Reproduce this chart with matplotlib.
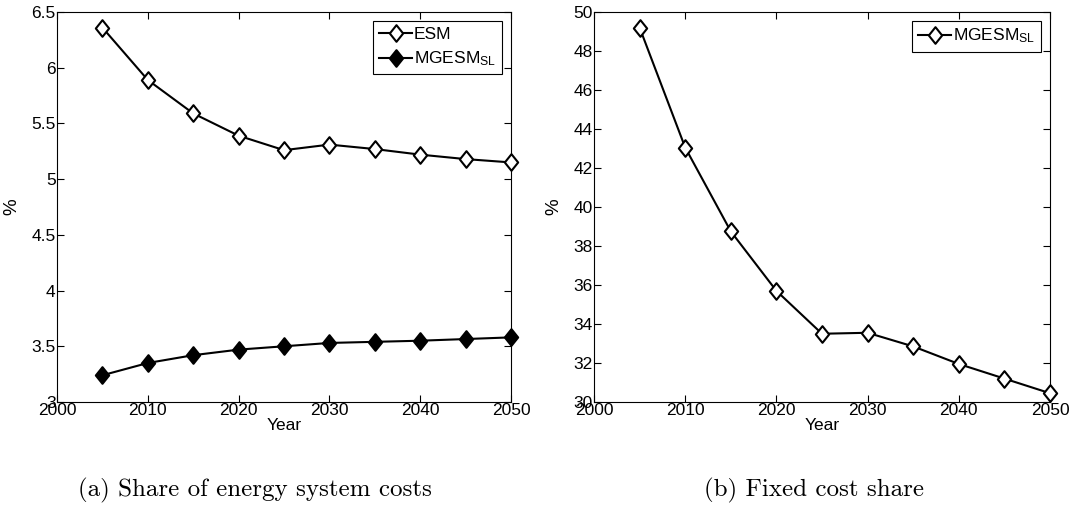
import matplotlib.pyplot as plt
from matplotlib.path import Path

years = [2005, 2010, 2015, 2020, 2025, 2030, 2035, 2040, 2045, 2050]
esm_share = [6.36, 5.89, 5.59, 5.39, 5.26, 5.31, 5.27, 5.22, 5.18, 5.15]
mgesm_share = [3.24, 3.35, 3.42, 3.47, 3.50, 3.53, 3.54, 3.55, 3.565, 3.58]
fixed_share = [49.2, 43.05, 38.75, 35.7, 33.5, 33.55, 32.85, 31.95, 31.2, 30.45]

plt.rcParams['font.family'] = ['Liberation Sans', 'DejaVu Sans']
plt.rcParams['mathtext.fontset'] = 'custom'
plt.rcParams['mathtext.rm'] = 'Liberation Sans'
plt.rcParams['mathtext.it'] = 'Liberation Sans'

# MATLAB-style diamond (a bit narrower than tall)
diamond = Path([(0, 1), (0.8, 0), (0, -1), (-0.8, 0), (0, 1)],
               [Path.MOVETO, Path.LINETO, Path.LINETO, Path.LINETO, Path.CLOSEPOLY])

fig = plt.figure(figsize=(10.72, 5.09), dpi=100)
W, H = 1072, 509
ax1 = fig.add_axes([57 / W, 1 - 402 / H, 454 / W, 390 / H])
ax2 = fig.add_axes([594 / W, 1 - 402 / H, 456 / W, 390 / H])

line_kw = dict(color='black', lw=1.5, marker=diamond, markersize=12,
               markeredgewidth=1.5, clip_on=False, zorder=3)

ax1.plot(years, esm_share, markerfacecolor='white', label='ESM', **line_kw)
ax1.plot(years, mgesm_share, markerfacecolor='black', label='MGESM$_{\\mathrm{SL}}$', **line_kw)
ax1.set_ylim(3, 6.5)
ax1.set_yticks([3, 3.5, 4, 4.5, 5, 5.5, 6, 6.5])
ax1.set_yticklabels(['3', '3.5', '4', '4.5', '5', '5.5', '6', '6.5'])

ax2.plot(years, fixed_share, markerfacecolor='white', label='MGESM$_{\\mathrm{SL}}$', **line_kw)
ax2.set_ylim(30, 50)
ax2.set_yticks(range(30, 51, 2))

for ax in (ax1, ax2):
    ax.set_xlim(2000, 2050)
    ax.set_xticks(range(2000, 2051, 10))
    ax.tick_params(direction='in', top=True, right=True, labelsize=12.5, length=5, pad=1)
    ax.set_xlabel('Year', fontsize=12.5, labelpad=0)
    ax.set_ylabel('%', fontsize=13.5, labelpad=8)
    for sp in ax.spines.values():
        sp.set_linewidth(0.8)
    leg = ax.legend(loc='upper right', fancybox=False, edgecolor='black', fontsize=12.5,
                    handlelength=1.9, borderpad=0.35, labelspacing=0.45, handletextpad=0.1,
                    borderaxespad=0.5, framealpha=1)
    leg.get_frame().set_linewidth(0.8)

fig.text(255 / W, 1 - 490 / H, '(a) Share of energy system costs', family='cmr10',
         fontsize=18, ha='center', va='center')
fig.text(814 / W, 1 - 490 / H, '(b) Fixed cost share', family='cmr10',
         fontsize=18, ha='center', va='center')

fig.savefig('out.png', dpi=100)
